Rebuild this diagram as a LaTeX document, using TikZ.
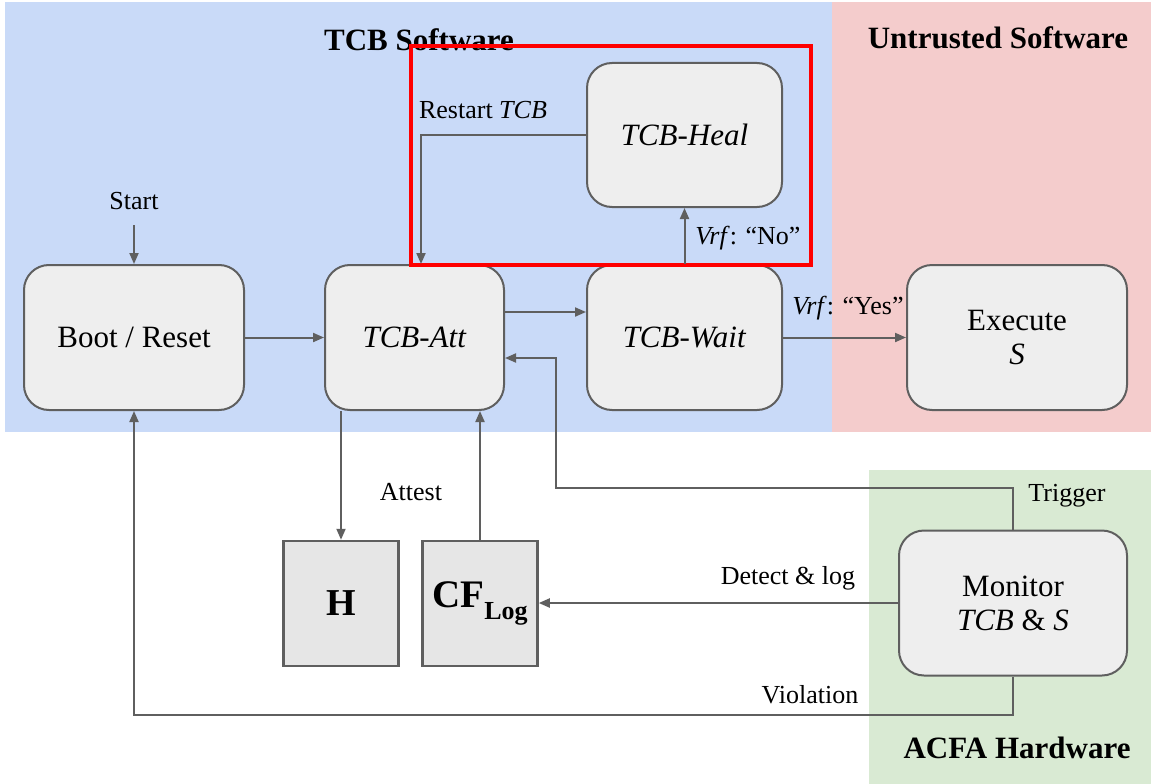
\documentclass[tikz,border=0pt]{standalone}
\usepackage{fontspec}
\setmainfont{Liberation Serif}
\usetikzlibrary{arrows.meta}
\definecolor{tcbblue}{HTML}{C9DAF8}
\definecolor{untrpink}{HTML}{F4CCCC}
\definecolor{hwgreen}{HTML}{D9EAD3}
\definecolor{boxfill}{HTML}{EEEEEE}
\definecolor{memfill}{HTML}{E6E6E6}
\definecolor{linegray}{HTML}{5F5F5F}
\definecolor{hlred}{HTML}{FF0000}
\tikzset{
  statebox/.style={draw=linegray, line width=2pt, fill=boxfill, rounded corners=25pt,
    inner sep=0pt, align=center, font=\fontsize{31}{36}\selectfont},
  membox/.style={draw=linegray, line width=2.5pt, fill=memfill, inner sep=0pt,
    minimum width=115pt, minimum height=125pt, align=center},
  arr/.style={draw=linegray, line width=2pt, -{Triangle[length=11pt,width=9pt]}},
  conn/.style={draw=linegray, line width=2pt},
  lbl/.style={inner sep=0pt, font=\fontsize{26}{30}\selectfont},
  title/.style={inner sep=0pt, font=\fontsize{31}{36}\selectfont\bfseries},
}
\begin{document}
\begin{tikzpicture}[x=1pt,y=-1pt]
\useasboundingbox (0,0) rectangle (1151,784);
% regions
\fill[tcbblue] (5,2) rectangle (832,432);
\fill[untrpink] (832,2) rectangle (1151,432);
\fill[hwgreen] (869,470) rectangle (1151,784);
\node[title] (t1) at (419,40) {TCB Software};
\node[title] (t2) at (998,38) {Untrusted Software};
\node[title] (t3) at (1017,748) {ACFA Hardware};
% nodes
\node[statebox, minimum width=220pt, minimum height=145pt] (boot) at (134,337.5) {Boot / Reset};
\node[statebox, minimum width=179pt, minimum height=145pt] (att) at (414.5,337.5) {\textit{TCB-Att}};
\node[statebox, minimum width=195pt, minimum height=145pt] (wait) at (684.5,337.5) {\textit{TCB-Wait}};
\node[statebox, minimum width=195pt, minimum height=144pt] (heal) at (684.5,135) {\textit{TCB-Heal}};
\node[statebox, minimum width=220pt, minimum height=145pt] (exec) at (1017,337.5) {Execute\\[-2pt]\textit{S}};
\node[statebox, minimum width=228pt, minimum height=145pt] (mon) at (1013,603) {Monitor\\[-2pt]\textit{TCB} \& \textit{S}};
\node[membox] (h) at (341,603.5) {\fontsize{38}{40}\selectfont\bfseries H};
\node[membox] (cf) at (480,603.5) {\bfseries\fontsize{39}{40}\selectfont CF\raisebox{-12pt}{\fontsize{26}{28}\selectfont Log}};
% red highlight
\node[draw=hlred, line width=4pt, minimum width=400pt, minimum height=219pt, inner sep=0pt] (hl) at (611,155.5) {};
% coordinates
\coordinate (start) at (134,225);
\coordinate (y312) at (0,312);
\coordinate (y358) at (0,358);
\coordinate (tcorner) at (556,488);
\coordinate (vy) at (0,715);
% connectors
\node[lbl] (lstart) at (134,201) {Start};
\draw[arr] (start) -- (boot.north);
\draw[arr] (boot.east) -- (att.west);
\draw[arr] (att.east |- y312) -- (wait.west |- y312);
\draw[arr] (wait.east) -- (exec.west);
\node[lbl] (lyes) at (848,308) {\textit{Vrf}: “Yes”};
\draw[arr] (wait.north) -- (heal.south);
\node[lbl] (lno) at (748,238) {\textit{Vrf}: “No”};
\draw[arr] (heal.west) -| ([xshift=6.5pt]att.north);
\node[lbl] (lrestart) at (483,110) {Restart \textit{TCB}};
\draw[arr] (h.north |- att.south) -- (h.north);
\node[lbl] (lattest) at (411,492) {Attest};
\draw[arr] (cf.north) -- (cf.north |- att.south);
\draw[arr] (mon.north) |- (tcorner) |- (att.east |- y358);
\node[lbl] (ltrig) at (1067,496) {Trigger};
\draw[arr] (mon.west) -- (mon.west -| cf.east);
\node[lbl] (ldetect) at (788,578) {Detect \& log};
\draw[arr] (mon.south) -- (mon.south |- vy) -| (boot.south);
\node[lbl] (lviol) at (810,695) {Violation};
\end{tikzpicture}
\end{document}
